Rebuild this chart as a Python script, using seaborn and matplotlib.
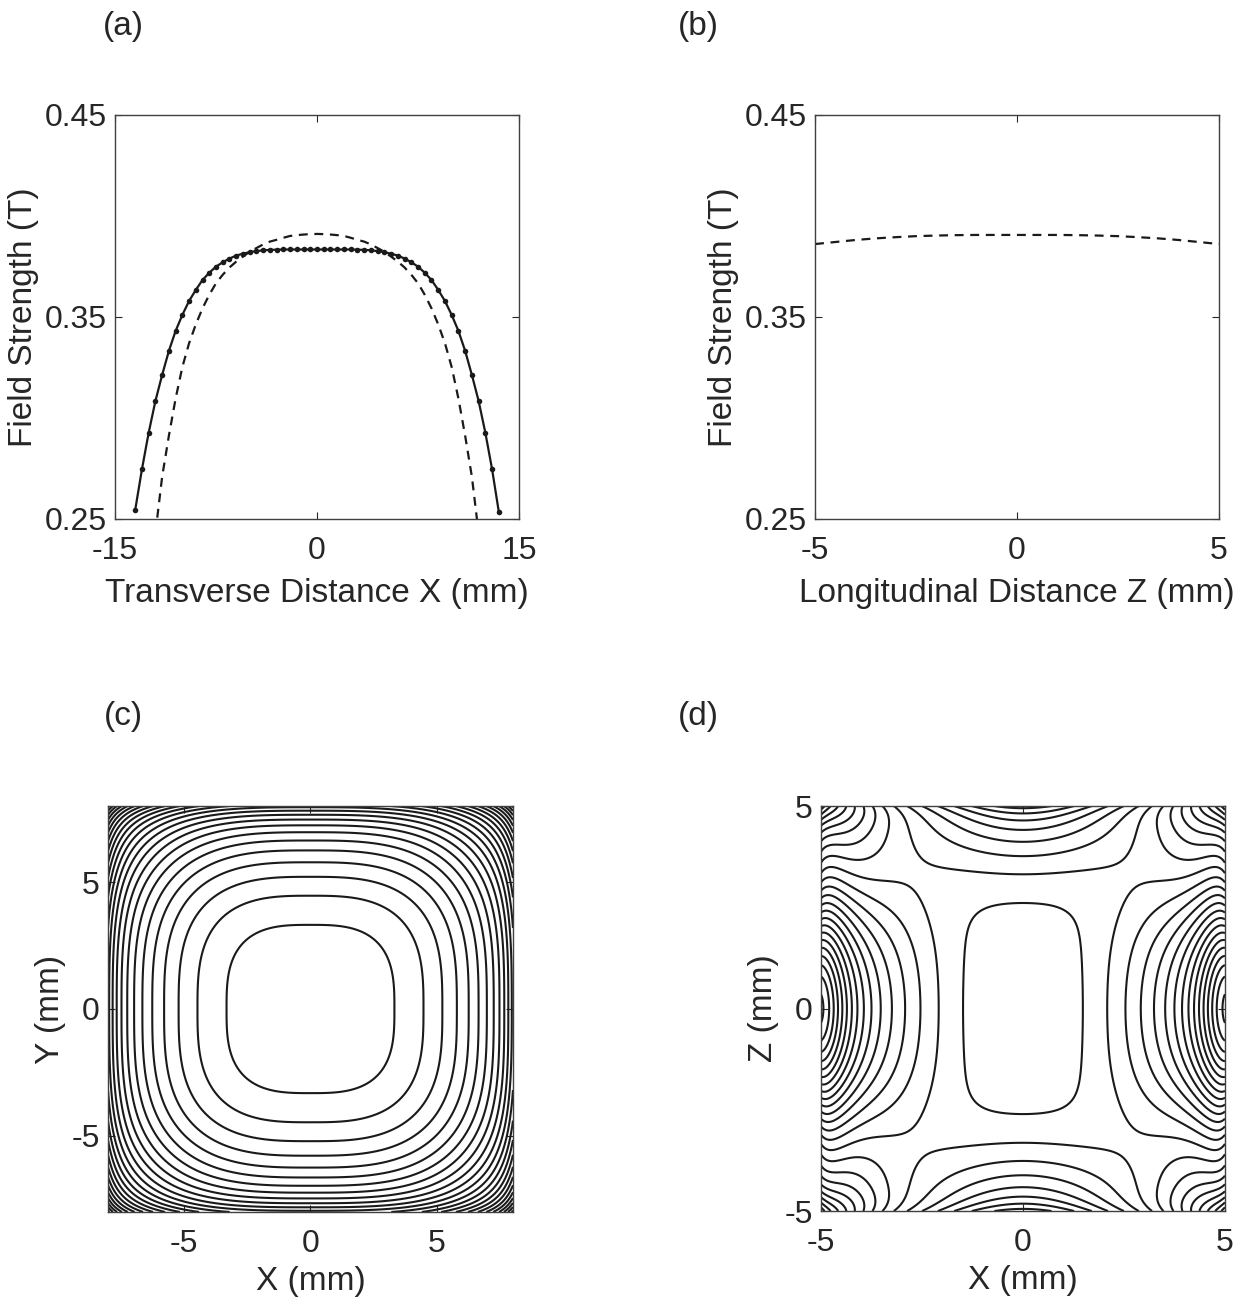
import numpy as np
import pandas as pd
import matplotlib
matplotlib.use("Agg")
import matplotlib.pyplot as plt
import seaborn as sns

# ---- panel (a): field along X, measured (dots) and model (dashed) ----
x_meas = np.arange(-13.5, 13.51, 0.5)
b_meas = [0.2545, 0.2746, 0.2927, 0.3084, 0.3213, 0.3332, 0.3431, 0.3510, 0.3579,
          0.3634, 0.3683, 0.3719, 0.3749, 0.3771, 0.3789, 0.3804, 0.3813, 0.3821,
          0.3826, 0.3830, 0.3832, 0.3833, 0.3834, 0.3834, 0.3834, 0.3834, 0.3834,
          0.3834,
          0.3834, 0.3834, 0.3834, 0.3834, 0.3834, 0.3833, 0.3832, 0.3830, 0.3826,
          0.3821, 0.3813, 0.3804, 0.3789, 0.3771, 0.3749, 0.3719, 0.3683, 0.3634,
          0.3579, 0.3510, 0.3431, 0.3332, 0.3213, 0.3084, 0.2927, 0.2746, 0.2535]
x_model = np.arange(-12.0, 12.01, 0.5)
b_model_x = [0.2430, 0.2709, 0.2912, 0.3096, 0.3252, 0.3370, 0.3463, 0.3543, 0.3610,
             0.3667, 0.3709, 0.3745, 0.3774, 0.3799, 0.3823, 0.3841, 0.3859, 0.3873,
             0.3882, 0.3892, 0.3901, 0.3905, 0.3908, 0.3910, 0.3911,
             0.3910, 0.3908, 0.3905, 0.3901, 0.3892, 0.3882, 0.3873, 0.3859, 0.3841,
             0.3823, 0.3799, 0.3774, 0.3745, 0.3709, 0.3667, 0.3610, 0.3543, 0.3463,
             0.3370, 0.3252, 0.3096, 0.2912, 0.2709, 0.2430]

# ---- panel (b): model field along Z ----
z_model = np.arange(-5.0, 5.01, 0.5)
b_model_z = [0.3861, 0.3871, 0.3881, 0.3889, 0.3895, 0.3900, 0.3903, 0.3905, 0.3906,
             0.3906, 0.3906, 0.3906, 0.3906, 0.3905, 0.3903, 0.3900, 0.3895, 0.3889,
             0.3881, 0.3871, 0.3861]

# ---- panel (c): contour crossings along the X axis (mm) and their level index ----
c_axis_pos = [3.34, 4.45, 5.20, 5.79, 6.25, 6.65, 6.96, 7.24, 7.46, 7.66, 7.82, 7.95]
c_axis_lvl = [0, 1, 2, 3, 4, 5, 6, 7, 8, 9, 10, 11]

# ---- panel (d): points read on the X-Z contours, one quadrant (|x|, |z|, level) ----
d_axis_x = [1.46, 2.09, 2.55, 2.89, 3.25, 3.53, 3.75, 3.93, 4.09, 4.23, 4.36, 4.48,
            4.59, 4.69, 4.79, 4.89]
d_axis_x_lvl = [0, -1, -2, -3, -4, -5, -6, -7, -8, -9, -10, -11, -12, -13, -14, -15]
d_axis_z = [2.54, 3.33, 3.75, 4.12, 4.41, 4.65, 4.82, 4.94]
d_axis_z_lvl = [0, -1, -2, -3, -4, -5, -6, -7]
# crossings on the side edge |x| = 5
d_side_z = [3.40, 3.08, 2.87, 2.70, 2.54, 2.38, 2.22, 2.05, 1.88, 1.70, 1.50, 1.28,
            1.03, 0.74, 0.38, 3.59, 3.90, 4.13, 4.33, 4.50, 4.66, 4.79, 4.91]
d_side_lvl = [-1, -2, -3, -4, -5, -6, -7, -8, -9, -10, -11, -12, -13, -14, -15,
              0, 1, 2, 3, 4, 5, 6, 7]
# crossings on the top edge |z| = 5
d_top_x = [3.21, 2.86, 2.50, 2.12, 1.70, 1.25, 0.70,
           3.46, 3.72, 3.95, 4.17, 4.38, 4.57, 4.75, 4.91]
d_top_lvl = [-1, -2, -3, -4, -5, -6, -7, 0, 1, 2, 3, 4, 5, 6, 7]
# interior points on the inner contours
d_in_x = [1.46, 1.39, 1.19, 0.78,
          3.91, 2.92, 2.51, 2.26, 2.14,
          2.76, 2.34, 1.68,
          3.42, 3.55, 4.00]
d_in_z = [1.45, 2.02, 2.40, 2.52,
          3.30, 3.01, 2.68, 2.02, 1.04,
          4.16, 3.59, 3.42,
          4.25, 3.80, 3.62]
d_in_lvl = [0, 0, 0, 0,
            -1, -1, -1, -1, -1,
            -1, -1, -1,
            0, 0, 0]

d_pts_x = d_axis_x + [0.0] * len(d_axis_z) + [5.0] * len(d_side_z) + d_top_x + d_in_x
d_pts_z = [0.0] * len(d_axis_x) + d_axis_z + d_side_z + [5.0] * len(d_top_x) + d_in_z
d_pts_lvl = d_axis_x_lvl + d_axis_z_lvl + d_side_lvl + d_top_lvl + d_in_lvl


def even_basis(x, z, terms, scale):
    u = (np.asarray(x, float) / scale) ** 2
    w = (np.asarray(z, float) / scale) ** 2
    return np.stack([u ** i * w ** j for i, j in terms], axis=-1)


def ridge_fit(A, y, lam):
    n = A.shape[1]
    return np.linalg.solve(A.T @ A + lam * np.eye(n), A.T @ np.asarray(y, float))


# field for (c): sum of one axis profile in X and one in Y
def c_basis(v):
    a = np.abs(np.asarray(v, float)) / 8.0
    return np.stack([np.ones_like(a), a ** 3, a ** 16], axis=-1)


c_coef = ridge_fit(c_basis(c_axis_pos), c_axis_lvl, 1e-9)
gx = np.linspace(-8, 8, 481)
GX, GY = np.meshgrid(gx, gx)
field_c = c_basis(GX) @ c_coef + c_basis(GY) @ c_coef - c_coef[0]

# field for (d): even 2-D polynomial through the read contour points
d_terms = [(i, j) for i in range(8) for j in range(8) if i + j <= 7]
d_coef = ridge_fit(even_basis(d_pts_x, d_pts_z, d_terms, 5.0), d_pts_lvl, 1e-5)
gd = np.linspace(-5, 5, 481)
DX, DZ = np.meshgrid(gd, gd)
field_d = even_basis(DX, DZ, d_terms, 5.0) @ d_coef

# ---- style ----
sns.set_theme(style="ticks")
plt.rcParams['font.family'] = ['Liberation Sans', 'DejaVu Sans']
plt.rcParams['axes.unicode_minus'] = False
plt.rcParams['axes.edgecolor'] = '#404040'
plt.rcParams['axes.linewidth'] = 1.0
plt.rcParams['xtick.direction'] = 'in'
plt.rcParams['ytick.direction'] = 'in'
plt.rcParams['xtick.color'] = '#262626'
plt.rcParams['ytick.color'] = '#262626'
TS = 23
LS = 24

fig = plt.figure(figsize=(12.57, 12.99), dpi=100)
ax_a = fig.add_axes([0.0915, 0.6005, 0.3214, 0.3110])
ax_b = fig.add_axes([0.6484, 0.6005, 0.3214, 0.3110])
ax_c = fig.add_axes([0.0859, 0.0670, 0.3222, 0.3125])
ax_d = fig.add_axes([0.6531, 0.0677, 0.3214, 0.3118])

df_meas = pd.DataFrame({'x': x_meas, 'b': b_meas})
df_mx = pd.DataFrame({'x': x_model, 'b': b_model_x})
df_mz = pd.DataFrame({'z': z_model, 'b': b_model_z})

sns.lineplot(data=df_meas, x='x', y='b', ax=ax_a, color='k', linewidth=1.6,
             marker='o', markersize=4, markeredgewidth=0)
sns.lineplot(data=df_mx, x='x', y='b', ax=ax_a, color='k', linewidth=1.6,
             linestyle=(0, (4, 3)))
sns.lineplot(data=df_mz, x='z', y='b', ax=ax_b, color='k', linewidth=1.6,
             linestyle=(0, (4, 3)))

ax_c.contour(GX, GY, field_c, levels=np.arange(0, 40), colors='k',
             linewidths=1.5, linestyles='solid')
ax_d.contour(DX, DZ, field_d, levels=np.arange(-30, 30), colors='k',
             linewidths=1.5, linestyles='solid')

for ax in (ax_a, ax_b):
    ax.set_ylim(0.25, 0.45)
    ax.set_yticks([0.25, 0.35, 0.45])
    ax.set_yticklabels(['0.25', '0.35', '0.45'])
    ax.set_ylabel('Field Strength (T)', fontsize=LS, labelpad=4)
ax_a.set_xlim(-15, 15)
ax_a.set_xticks([-15, 0, 15])
ax_a.set_xlabel('Transverse Distance X (mm)', fontsize=LS, labelpad=9)
ax_b.set_xlim(-5, 5)
ax_b.set_xticks([-5, 0, 5])
ax_b.set_xlabel('Longitudinal Distance Z (mm)', fontsize=LS, labelpad=9)

ax_c.set_xlim(-8, 8)
ax_c.set_ylim(-8, 8)
ax_c.set_xticks([-5, 0, 5])
ax_c.set_yticks([-5, 0, 5])
ax_c.set_xlabel('X (mm)', fontsize=LS, labelpad=5)
ax_c.set_ylabel('Y (mm)', fontsize=LS, labelpad=4)
ax_d.set_xlim(-5, 5)
ax_d.set_ylim(-5, 5)
ax_d.set_xticks([-5, 0, 5])
ax_d.set_yticks([-5, 0, 5])
ax_d.set_xlabel('X (mm)', fontsize=LS, labelpad=5)
ax_d.set_ylabel('Z (mm)', fontsize=LS, labelpad=4)

for ax in (ax_a, ax_b, ax_c, ax_d):
    ax.tick_params(labelsize=TS, length=5, width=0.8, top=True, right=True)
    ax.tick_params(axis='x', pad=12)
    ax.tick_params(axis='y', pad=6)
    for s in ax.spines.values():
        s.set_visible(True)

for lab, (px, py) in zip(['(a)', '(b)', '(c)', '(d)'],
                         [(123, 26), (698, 26), (123, 717), (698, 717)]):
    fig.text(px / 1257, 1 - py / 1299, lab, fontsize=LS, ha='center', va='center')

fig.savefig('out.png', dpi=100)
